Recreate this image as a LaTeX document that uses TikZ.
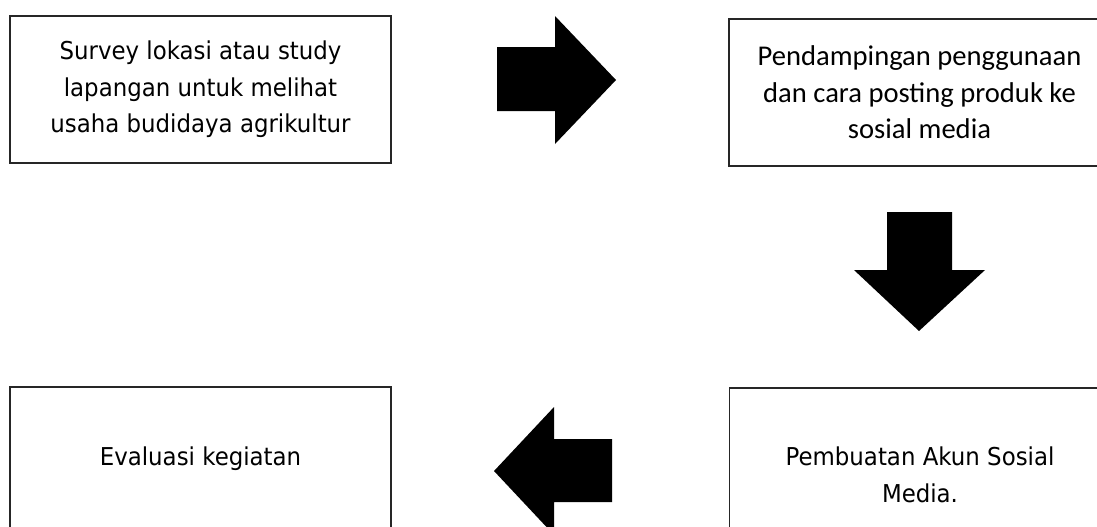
\documentclass[tikz,border=0pt]{standalone}
\usepackage{fontspec}
\setmainfont{DejaVu Sans}[FakeStretch=0.93]
\newfontfamily\calibriish{Carlito}
\begin{document}
\begin{tikzpicture}[x=0.5pt,y=-0.5pt,
  stepbox/.style={draw=black!85,line width=0.6pt,rectangle,align=center,
    minimum width=190.5pt,inner sep=0pt,font=\fontsize{12.3}{18.25}\selectfont},
  blockarrow/.style={fill=black}]
\useasboundingbox (0,0) rectangle (1097,526);
\node[stepbox,minimum height=73.5pt] (survey) at (200.5,89.5) {Survey lokasi atau study\\lapangan untuk melihat\\usaha budidaya agrikultur};
\node[stepbox,minimum height=73.5pt,font=\calibriish\fontsize{14.3}{18.25}\selectfont] (pendamping) at (919.5,92.5) {Pendampingan penggunaan\\dan cara posting produk ke\\sosial media};
\node[stepbox,minimum height=87pt] (akun) at (920,475) {Pembuatan Akun Sosial\\Media.};
\node[stepbox,minimum height=87pt] (evaluasi) at (200.5,474) {Evaluasi kegiatan\\~};
% block arrows between the steps
\fill[blockarrow] (497,47) -- (555,47) -- (555,16) -- (616,80) -- (555,144) -- (555,111) -- (497,111) -- cycle;
\fill[blockarrow] (887,212) -- (952,212) -- (952,270) -- (985,270) -- (919,331) -- (854,270) -- (887,270) -- cycle;
\fill[blockarrow] (612,439) -- (554,439) -- (554,407) -- (494,471) -- (554,535) -- (554,502) -- (612,502) -- cycle;
\end{tikzpicture}
\end{document}
